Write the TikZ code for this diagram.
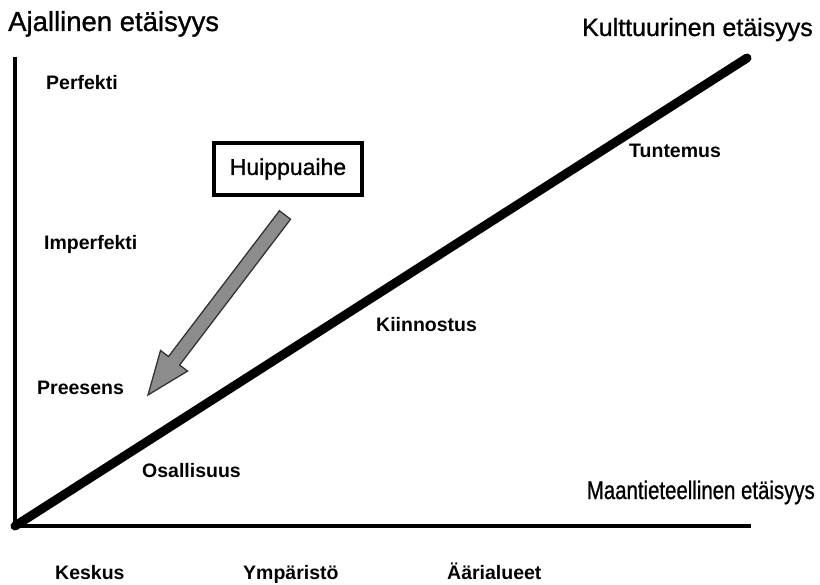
\documentclass[tikz,border=0pt]{standalone}
\usepackage{fontspec}
\setmainfont{Liberation Sans}
\usetikzlibrary{calc}
\tikzset{
  x=1pt, y=-1pt,
  axisline/.style={line width=4.5pt, black},
  diagline/.style={line width=9pt, black, line cap=round},
  biglabel/.style={inner sep=0pt},
  smalllabel/.style={inner sep=0pt, font=\fontsize{19.5}{21}\selectfont\bfseries},
  topicbox/.style={draw, line width=3.8pt, minimum width=148pt, minimum height=52pt, font=\fontsize{23}{25}\selectfont\addfontfeature{FakeBold=1}},
  grayarrow/.style={fill=black!45, draw=black!80, line width=1.3pt, line join=miter}
}
\begin{document}
\begin{tikzpicture}
\useasboundingbox (0,0) rectangle (820,585);
% axes
\coordinate (O) at (15,526);
\coordinate (ytop) at (15,57);
\coordinate (xend) at (751,526);
\coordinate (dtop) at (747,58);
\draw[axisline] (ytop) -- ($(O)+(0,2)$);
\draw[axisline] ($(O)+(-3,0)$) -- (xend);
\draw[diagline] (O) -- (dtop);
% axis titles
\node[biglabel, anchor=base west, font=\fontsize{27.5}{29}\selectfont\addfontfeature{FakeBold=1}] (ajal) at (8,31) {Ajallinen etäisyys};
\node[biglabel, anchor=base east, font=\fontsize{25}{27}\selectfont\addfontfeature{FakeBold=1}] (kult) at (813,36) {Kulttuurinen etäisyys};
\node[biglabel, anchor=base east, font=\fontsize{25.5}{27}\selectfont\addfontfeature{FakeBold=1}] (maan) at (815,499) {\scalebox{0.8}[1]{Maantieteellinen etäisyys}};
% tense labels
\node[smalllabel, anchor=base west] (perf) at (46,90) {Perfekti};
\node[smalllabel, anchor=base west] (imperf) at (44,250) {Imperfekti};
\node[smalllabel, anchor=base west] (prees) at (37,395) {Preesens};
% diagonal labels
\node[smalllabel, anchor=base west] (osal) at (142,478) {Osallisuus};
\node[smalllabel, anchor=base west] (kiin) at (376,332) {Kiinnostus};
\node[smalllabel, anchor=base west] (tunt) at (629,158) {Tuntemus};
% bottom labels
\node[smalllabel, anchor=base west] (kesk) at (55,579) {Keskus};
\node[smalllabel, anchor=base west] (ympa) at (243,579) {Ympäristö};
\node[smalllabel, anchor=base west] (aari) at (447,579) {Äärialueet};
% box
\node[topicbox] (box) at (288,169) {Huippuaihe};
% arrow
\coordinate (tail) at (285,215);
\coordinate (tip) at (148,395);
\coordinate (hb) at ($(tip)!43pt!(tail)$);
\draw[grayarrow]
  ($(tail)!7pt!90:(tip)$) -- ($(hb)!7pt!-90:(tail)$) -- ($(hb)!17pt!-90:(tail)$)
  -- (tip) -- ($(hb)!17pt!90:(tail)$) -- ($(hb)!7pt!90:(tail)$)
  -- ($(tail)!7pt!-90:(tip)$) -- cycle;
\end{tikzpicture}
\end{document}
